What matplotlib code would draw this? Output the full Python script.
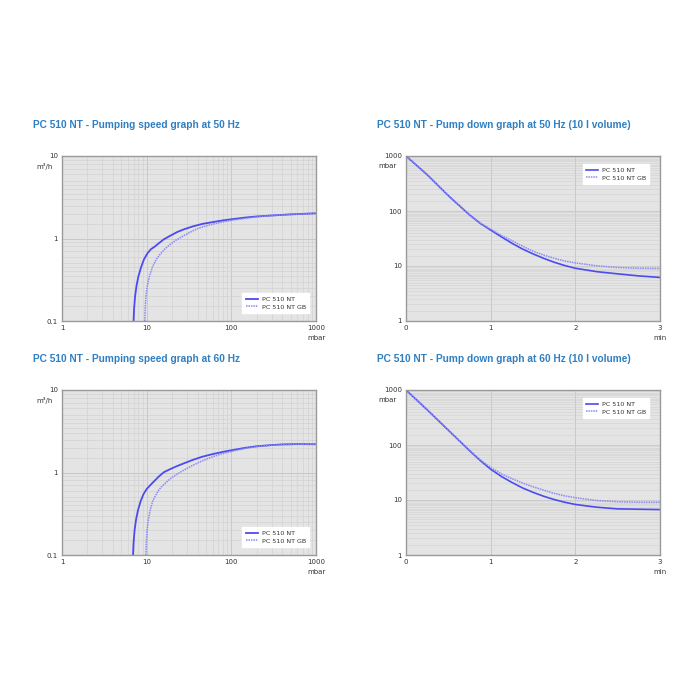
import matplotlib
matplotlib.use("Agg")
import matplotlib.pyplot as plt
from matplotlib.ticker import LogLocator, FixedLocator, NullFormatter

# ---- data ----
sp50_nt_p = [7.0, 7.1, 7.3, 7.6, 8.0, 8.6, 9.3, 10.2, 11.2, 12.5, 14, 16, 19, 23, 28, 35, 45, 60, 80, 100, 150, 200, 300, 500, 700, 1000]
sp50_nt_s = [0.1, 0.14, 0.2, 0.27, 0.35, 0.45, 0.56, 0.66, 0.74, 0.8, 0.88, 0.98, 1.08, 1.2, 1.3, 1.4, 1.5, 1.58, 1.66, 1.71, 1.8, 1.85, 1.9, 1.96, 1.99, 2.02]
sp50_gb_p = [9.5, 9.6, 9.8, 10.2, 10.8, 11.7, 13, 14.5, 16.5, 19, 22, 26, 32, 40, 50, 65, 85, 100, 150, 200, 300, 500, 700, 1000]
sp50_gb_s = [0.1, 0.14, 0.2, 0.27, 0.35, 0.45, 0.56, 0.65, 0.75, 0.85, 0.95, 1.05, 1.18, 1.32, 1.42, 1.52, 1.61, 1.66, 1.76, 1.83, 1.9, 1.96, 1.99, 2.02]

sp60_nt_p = [6.9, 7.0, 7.2, 7.5, 7.9, 8.5, 9.2, 10, 11, 12.5, 14, 16, 19, 23, 28, 35, 45, 60, 80, 100, 150, 200, 300, 400, 600, 1000]
sp60_nt_s = [0.1, 0.14, 0.2, 0.27, 0.35, 0.45, 0.55, 0.63, 0.7, 0.8, 0.9, 1.01, 1.1, 1.2, 1.3, 1.42, 1.55, 1.67, 1.78, 1.86, 2.0, 2.08, 2.15, 2.19, 2.21, 2.2]
sp60_gb_p = [9.8, 9.9, 10.1, 10.5, 11.0, 11.8, 12.8, 14, 16, 19, 23, 28, 35, 45, 60, 80, 100, 150, 200, 300, 400, 600, 1000]
sp60_gb_s = [0.1, 0.14, 0.2, 0.27, 0.35, 0.45, 0.53, 0.62, 0.72, 0.84, 0.96, 1.08, 1.22, 1.38, 1.55, 1.7, 1.8, 1.97, 2.06, 2.14, 2.18, 2.2, 2.2]

pd_t = [0, 0.25, 0.5, 0.75, 0.875, 1.0, 1.125, 1.25, 1.375, 1.5, 1.625, 1.75, 1.875, 2.0, 2.25, 2.5, 2.75, 3.0]
pd50_nt = [1000, 457, 190, 85, 60, 45, 34, 26, 20.4, 16.6, 13.8, 11.7, 10.2, 9.1, 7.9, 7.2, 6.6, 6.2]
pd50_gb = [1000, 457, 190, 85, 60, 46.8, 36, 29, 23, 18.6, 15.8, 13.8, 12.3, 11.4, 10.1, 9.4, 9.1, 9.0]
pd60_nt = [1000, 437, 186, 79, 52.5, 36.3, 26.9, 20.9, 16.6, 13.8, 11.7, 10.2, 9.1, 8.3, 7.4, 6.9, 6.8, 6.7]
pd60_gb = [1000, 437, 186, 80, 54, 39, 30, 24.5, 20.4, 17.4, 15.1, 13.2, 11.9, 11.0, 9.8, 9.3, 9.1, 9.1]

titles = ["PC 510 NT - Pumping speed graph at 50 Hz",
          "PC 510 NT - Pump down graph at 50 Hz (10 l volume)",
          "PC 510 NT - Pumping speed graph at 60 Hz",
          "PC 510 NT - Pump down graph at 60 Hz (10 l volume)"]
labels = ["PC 510 NT", "PC 510 NT GB"]

NT_C = "#4b4bf0"
GB_C = "#8a8af5"
BG = "#e4e4e4"
GRID = "#d2d2d2"
TITLE_C = "#2f7fc1"
TICK_C = "#333333"

fig = plt.figure(figsize=(7, 7), dpi=100)
fig.patch.set_facecolor("white")

L1, L2, W = 62/700, 406/700, 254/700
B1, B2, H = (700-321)/700, (700-555)/700, 165/700

def style(ax):
    ax.set_facecolor(BG)
    for s in ax.spines.values():
        s.set_color("#9a9a9a")
        s.set_linewidth(1.0)
    ax.tick_params(which="both", length=0, labelsize=5, colors=TICK_C, pad=3)
    ax.set_axisbelow(True)

def add_legend(ax, loc, anchor):
    leg = ax.legend(loc=loc, bbox_to_anchor=anchor, fontsize=4.6,
                    frameon=True, fancybox=False, handlelength=1.9, borderpad=0.5,
                    labelspacing=0.35, handletextpad=0.6)
    leg.get_frame().set_facecolor("white")
    leg.get_frame().set_edgecolor("white")
    leg.get_frame().set_alpha(1)
    for t_ in leg.get_texts():
        t_.set_color(TICK_C)

def add_title(ax, title):
    ax.text(-0.115, 1.19, title, transform=ax.transAxes, ha="left", va="center",
            fontsize=7.3, fontweight="bold", color=TITLE_C, family="Liberation Sans")

def speed(ax, p1, s1, p2, s2, title):
    style(ax)
    ax.set_xscale("log"); ax.set_yscale("log")
    ax.set_xlim(1, 1000); ax.set_ylim(0.1, 10)
    ax.xaxis.set_major_locator(FixedLocator([1, 10, 100, 1000]))
    ax.set_xticklabels(["1", "10", "100", "1000"])
    ax.yaxis.set_major_locator(FixedLocator([0.1, 1, 10]))
    ax.set_yticklabels(["0.1", "1", "10"])
    ax.xaxis.set_minor_locator(LogLocator(base=10, subs=range(2, 10)))
    ax.yaxis.set_minor_locator(LogLocator(base=10, subs=[1.5, 2, 2.5, 3, 3.5, 4, 4.5, 5, 6, 7, 8, 9]))
    ax.xaxis.set_minor_formatter(NullFormatter())
    ax.yaxis.set_minor_formatter(NullFormatter())
    ax.grid(which="major", color="#c8c8c8", lw=0.7)
    ax.grid(which="minor", color=GRID, lw=0.5)
    ax.plot(p1, s1, color=NT_C, lw=1.3, label=labels[0])
    ax.plot(p2, s2, color=GB_C, lw=1.1, ls=(0, (1, 0.6)), label=labels[1])
    ax.text(-0.035, 0.96, "m³/h", transform=ax.transAxes, ha="right", va="top",
            fontsize=5, color=TICK_C)
    ax.text(1.0, -0.085, "mbar", transform=ax.transAxes, ha="center", va="top",
            fontsize=5, color=TICK_C)
    add_legend(ax, "lower right", (0.985, 0.03))
    add_title(ax, title)

def pumpdown(ax, t, y1, y2, title):
    style(ax)
    ax.set_yscale("log")
    ax.set_xlim(0, 3); ax.set_ylim(1, 1000)
    ax.xaxis.set_major_locator(FixedLocator([0, 1, 2, 3]))
    ax.set_xticklabels(["0", "1", "2", "3"])
    ax.yaxis.set_major_locator(FixedLocator([1, 10, 100, 1000]))
    ax.set_yticklabels(["1", "10", "100", "1000"])
    ax.yaxis.set_minor_locator(LogLocator(base=10, subs=[1.5, 2, 2.5, 3, 3.5, 4, 4.5, 5, 5.5, 6, 6.5, 7, 7.5, 8, 8.5, 9, 9.5]))
    ax.yaxis.set_minor_formatter(NullFormatter())
    ax.grid(which="major", axis="x", color="#c8c8c8", lw=0.7)
    ax.grid(which="major", axis="y", color="#c8c8c8", lw=0.6)
    ax.grid(which="minor", axis="y", color=GRID, lw=0.4)
    ax.plot(t, y1, color=NT_C, lw=1.2, label=labels[0])
    ax.plot(t, y2, color=GB_C, lw=1.1, ls=(0, (1, 0.6)), label=labels[1])
    ax.text(-0.035, 0.96, "mbar", transform=ax.transAxes, ha="right", va="top",
            fontsize=5, color=TICK_C)
    ax.text(1.0, -0.085, "min", transform=ax.transAxes, ha="center", va="top",
            fontsize=5, color=TICK_C)
    add_legend(ax, "upper right", (0.97, 0.97))
    add_title(ax, title)

ax1 = fig.add_axes([L1, B1, W, H])
ax2 = fig.add_axes([L2, B1, W, H])
ax3 = fig.add_axes([L1, B2, W, H])
ax4 = fig.add_axes([L2, B2, W, H])

speed(ax1, sp50_nt_p, sp50_nt_s, sp50_gb_p, sp50_gb_s, titles[0])
pumpdown(ax2, pd_t, pd50_nt, pd50_gb, titles[1])
speed(ax3, sp60_nt_p, sp60_nt_s, sp60_gb_p, sp60_gb_s, titles[2])
pumpdown(ax4, pd_t, pd60_nt, pd60_gb, titles[3])

fig.savefig("out.png", dpi=100, facecolor="white")
